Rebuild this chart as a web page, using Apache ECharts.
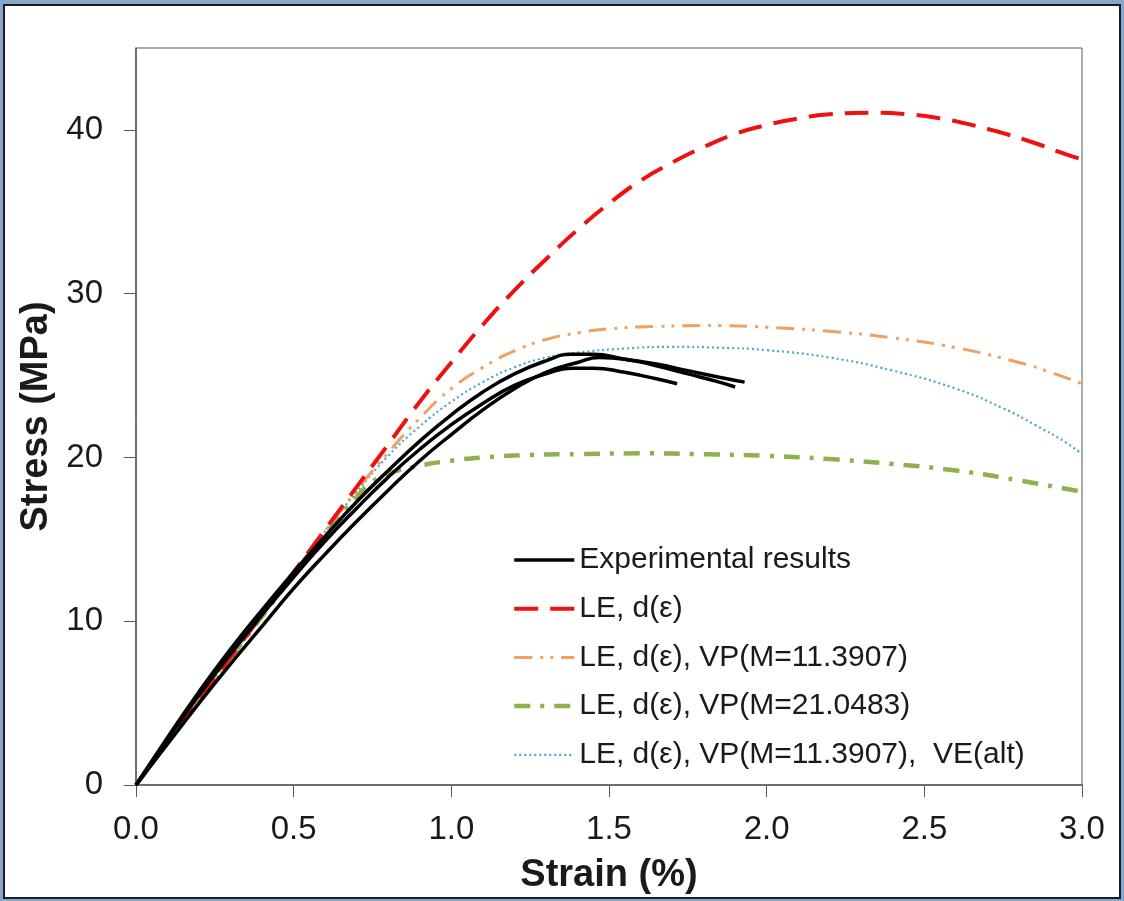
<!DOCTYPE html>
<html>
<head>
<meta charset="utf-8">
<script src="https://cdn.jsdelivr.net/npm/echarts@6/dist/echarts.min.js"></script>
<style>
html,body{margin:0;padding:0;background:#86a7cb;}
#c{width:1124px;height:901px;}
</style>
</head>
<body>
<div id="c"></div>
<script>
// ---- data (strain %, stress MPa) ----
const xTicks = [0, 0.5, 1.0, 1.5, 2.0, 2.5, 3.0];
const yTicks = [0, 10, 20, 30, 40];

const exp1 = [[0,0],[0.1,2.9],[0.2,5.7],[0.3,8.3],[0.4,10.7],[0.5,13.0],[0.6,15.2],[0.7,17.3],[0.8,19.2],[0.9,21.0],[1.0,22.6],[1.1,24.0],[1.2,25.1],[1.3,25.9],[1.38,26.3],[1.45,26.3],[1.55,26.0],[1.65,25.7],[1.75,25.3],[1.85,24.9],[1.93,24.6]];
const exp2 = [[0,0],[0.1,2.8],[0.2,5.5],[0.3,8.0],[0.4,10.4],[0.5,12.7],[0.6,14.9],[0.7,16.9],[0.8,18.8],[0.9,20.5],[1.0,22.0],[1.1,23.3],[1.2,24.4],[1.3,25.1],[1.38,25.45],[1.45,25.45],[1.55,25.2],[1.65,24.8],[1.716,24.5]];
const exp3 = [[0,0],[0.1,2.5],[0.2,5.0],[0.3,7.4],[0.4,9.7],[0.5,12.0],[0.6,14.1],[0.7,16.1],[0.8,18.0],[0.9,19.8],[1.0,21.4],[1.1,22.9],[1.2,24.2],[1.3,25.2],[1.4,25.8],[1.47,26.1],[1.55,26.0],[1.65,25.6],[1.75,25.1],[1.85,24.6],[1.90,24.3]];

const leD = [[0,0],[0.2,5.2],[0.4,10.4],[0.6,15.6],[0.8,20.8],[0.9,23.4],[1.0,25.8],[1.1,28.1],[1.2,30.2],[1.3,32.1],[1.4,33.9],[1.5,35.5],[1.6,36.9],[1.7,38.0],[1.8,38.95],[1.9,39.75],[2.0,40.3],[2.1,40.7],[2.2,40.95],[2.33,41.05],[2.45,40.95],[2.55,40.7],[2.65,40.3],[2.75,39.8],[2.85,39.2],[2.95,38.5],[3.0,38.2]];
const leVP11 = [[0,0],[0.2,5.2],[0.4,10.4],[0.6,15.5],[0.7,18.0],[0.8,20.3],[0.9,22.4],[1.0,24.2],[1.1,25.5],[1.2,26.5],[1.3,27.2],[1.4,27.6],[1.5,27.85],[1.65,28.0],[1.85,28.05],[2.0,27.95],[2.2,27.7],[2.4,27.3],[2.6,26.7],[2.8,25.8],[2.9,25.2],[3.0,24.5]];
const leVP21 = [[0,0],[0.2,5.2],[0.4,10.3],[0.6,15.3],[0.7,17.6],[0.75,18.5],[0.8,19.0],[0.9,19.5],[1.0,19.8],[1.1,20.0],[1.25,20.15],[1.4,20.2],[1.6,20.25],[1.8,20.2],[2.0,20.1],[2.2,19.9],[2.4,19.6],[2.6,19.2],[2.8,18.6],[3.0,17.9]];
const leVP11VE = [[0,0],[0.2,5.2],[0.4,10.4],[0.6,15.5],[0.7,17.9],[0.8,20.1],[0.9,21.9],[1.0,23.4],[1.1,24.6],[1.2,25.5],[1.3,26.1],[1.4,26.4],[1.55,26.65],[1.7,26.75],[1.85,26.7],[2.0,26.55],[2.2,26.1],[2.4,25.3],[2.6,24.2],[2.75,23.0],[2.85,22.0],[2.95,20.9],[3.0,20.2]];

const names = ['Experimental results','LE, d(\u03b5)','LE, d(\u03b5), VP(M=11.3907)','LE, d(\u03b5), VP(M=21.0483)','LE, d(\u03b5), VP(M=11.3907),  VE(alt)'];

const styles = [
  {color:'#000000', width:3.5, type:'solid'},
  {color:'#ee1111', width:4, type:[24,12]},
  {color:'#f0a060', width:3, type:[18,8,3,7,3,8]},
  {color:'#8fb04f', width:4.5, type:[16,10,4,10]},
  {color:'#4aa8c4', width:2.2, type:[2,3]}
];

const chart = echarts.init(document.getElementById('c'), null, {renderer:'canvas'});
const font = 'Liberation Sans, Arial, sans-serif';
function line(idx, data, z){
  const s = styles[idx];
  return {name:names[idx], type:'line', data, showSymbol:false, symbol:'none', smooth:true, z:z||2,
    lineStyle:{color:s.color, width:s.width, type:s.type}, itemStyle:{color:s.color}};
}
chart.setOption({
  backgroundColor:'#86a7cb',
  animation:false,
  graphic:[{type:'rect', shape:{x:4,y:5,width:1116,height:893}, style:{fill:'#ffffff', stroke:'#1c1c1c', lineWidth:2}, z:-10}],
  grid:{left:136, top:48, right:42, bottom:116, show:true, borderColor:'#5a5a5a', borderWidth:1, backgroundColor:'transparent'},
  legend:{
    data:names.map((n,i)=>({name:n, lineStyle:{width:styles[i].width, type:styles[i].type, color:styles[i].color}})),
    orient:'vertical', left:507, top:540, itemWidth:60, itemHeight:29, itemGap:18.7,
    itemStyle:{opacity:0},
    textStyle:{fontFamily:font, fontSize:30, color:'#1a1a1a', lineHeight:29, padding:[0,0,0,0]},
    backgroundColor:'transparent'
  },
  xAxis:{type:'value', min:0, max:3, interval:0.5,
    name:'Strain (%)', nameLocation:'middle', nameGap:72,
    nameTextStyle:{fontFamily:font, fontSize:38, fontWeight:'bold', color:'#1a1a1a'},
    axisLine:{lineStyle:{color:'#5a5a5a', width:1.5}},
    axisTick:{show:true, inside:false, length:12, lineStyle:{color:'#5a5a5a'}, customValues:xTicks},
    axisLabel:{fontFamily:font, fontSize:33, color:'#1a1a1a', margin:28, customValues:xTicks, formatter:v=>v.toFixed(1)},
    splitLine:{show:false}},
  yAxis:{type:'value', min:0, max:45, interval:10,
    name:'Stress (MPa)', nameLocation:'middle', nameGap:59, nameRotate:90,
    nameTextStyle:{fontFamily:font, fontSize:38, fontWeight:'bold', color:'#1a1a1a'},
    axisLine:{show:true, lineStyle:{color:'#5a5a5a', width:1.5}},
    axisTick:{show:true, inside:false, length:12, lineStyle:{color:'#5a5a5a'}, customValues:yTicks},
    axisLabel:{fontFamily:font, fontSize:33, color:'#1a1a1a', margin:33, customValues:yTicks},
    splitLine:{show:false}},
  series:[
    line(4, leVP11VE, 3),
    line(3, leVP21, 3),
    line(2, leVP11, 3),
    line(1, leD, 4),
    line(0, exp1, 5),
    line(0, exp2, 5),
    line(0, exp3, 5)
  ]
});
</script>
</body>
</html>
